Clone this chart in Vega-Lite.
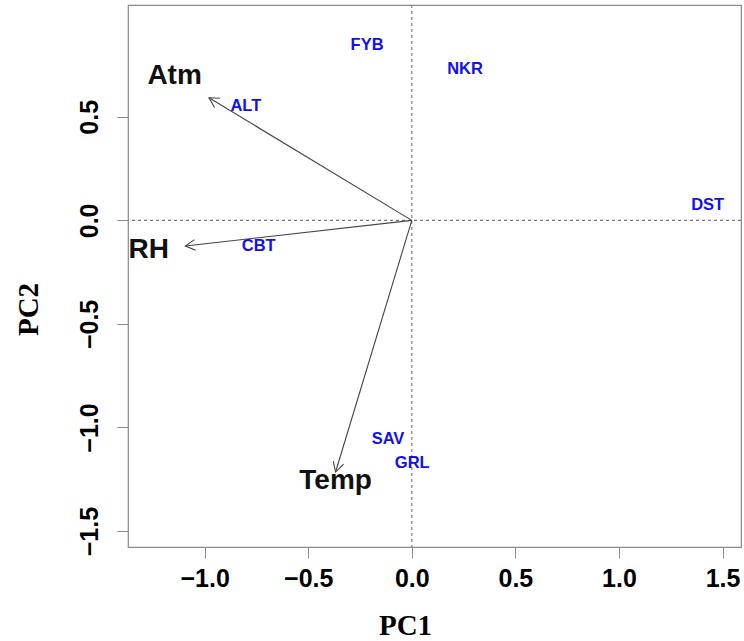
{
  "$schema": "https://vega.github.io/schema/vega-lite/v6.json",
  "autosize": "none",
  "padding": {"left": 128, "top": 5, "right": 3, "bottom": 94},
  "width": 613,
  "height": 542,
  "background": "white",
  "config": {
    "view": {"stroke": "#8a8a8a", "strokeWidth": 1.2},
    "axis": {
      "grid": false,
      "domain": false,
      "tickColor": "#8a8a8a",
      "tickSize": 11,
      "tickWidth": 1,
      "labelFont": "Liberation Sans",
      "labelFontWeight": "bold",
      "labelFontSize": 25,
      "labelColor": "black",
      "titleFont": "Liberation Serif",
      "titleFontWeight": "bold",
      "titleFontSize": 29,
      "titleColor": "black"
    }
  },
  "datasets": {
    "vars": [
      {"var": "Atm", "x": -0.979, "y": 0.592, "lx": -1.145, "ly": 0.695},
      {"var": "RH", "x": -1.093, "y": -0.124, "lx": -1.27, "ly": -0.145},
      {"var": "Temp", "x": -0.368, "y": -1.215, "lx": -0.368, "ly": -1.257}
    ],
    "sites": [
      {"site": "FYB", "x": -0.216, "y": 0.847},
      {"site": "ALT", "x": -0.801, "y": 0.554},
      {"site": "CBT", "x": -0.739, "y": -0.125},
      {"site": "NKR", "x": 0.257, "y": 0.73},
      {"site": "DST", "x": 1.428, "y": 0.076},
      {"site": "SAV", "x": -0.115, "y": -1.057},
      {"site": "GRL", "x": 0.002, "y": -1.169}
    ]
  },
  "layer": [
    {
      "data": {"values": [{}]},
      "mark": {"type": "rule", "color": "#777777", "strokeDash": [3, 3], "strokeWidth": 1.1},
      "encoding": {
        "x": {
          "datum": 0,
          "type": "quantitative",
          "scale": {"domain": [-1.37, 1.589], "nice": false, "zero": false},
          "axis": {
            "values": [-1, -0.5, 0, 0.5, 1, 1.5],
            "format": ".1f",
            "labelPadding": 8,
            "title": "PC1",
            "titleX": 277,
            "titleY": 87,
            "titleBaseline": "alphabetic"
          }
        }
      }
    },
    {
      "data": {"values": [{}]},
      "mark": {"type": "rule", "color": "#777777", "strokeDash": [3, 3], "strokeWidth": 1.1},
      "encoding": {
        "y": {
          "datum": 0,
          "type": "quantitative",
          "scale": {"domain": [-1.577, 1.04], "nice": false, "zero": false},
          "axis": {
            "values": [-1.5, -1, -0.5, 0, 0.5],
            "format": ".1f",
            "labelAngle": 270,
            "labelAlign": "center",
            "labelBaseline": "alphabetic",
            "labelPadding": 20,
            "title": "PC2",
            "titleAngle": 270,
            "titleX": -91,
            "titleY": 304,
            "titleBaseline": "alphabetic"
          }
        }
      }
    },
    {
      "data": {"name": "vars"},
      "mark": {"type": "rule", "color": "#444444", "strokeWidth": 1.1},
      "encoding": {
        "x": {"field": "x", "type": "quantitative"},
        "y": {"field": "y", "type": "quantitative"},
        "x2": {"datum": 0},
        "y2": {"datum": 0}
      }
    },
    {
      "data": {"name": "vars"},
      "transform": [{"calculate": "atan2(-datum.y, datum.x) * 180 / PI", "as": "ang"}],
      "mark": {"type": "point", "shape": "M -1 -0.55 L 0 0 L -1 0.55", "filled": false, "stroke": "#444444", "strokeWidth": 1.1, "size": 380, "opacity": 1},
      "encoding": {
        "x": {"field": "x", "type": "quantitative"},
        "y": {"field": "y", "type": "quantitative"},
        "angle": {"field": "ang", "type": "quantitative", "scale": null}
      }
    },
    {
      "data": {"name": "vars"},
      "mark": {"type": "text", "font": "Liberation Sans", "fontWeight": "bold", "fontSize": 28, "color": "#111111", "align": "center", "baseline": "middle"},
      "encoding": {
        "x": {"field": "lx", "type": "quantitative"},
        "y": {"field": "ly", "type": "quantitative"},
        "text": {"field": "var"}
      }
    },
    {
      "data": {"name": "sites"},
      "mark": {"type": "text", "font": "Liberation Sans", "fontWeight": "bold", "fontSize": 16.5, "color": "#1010f0", "align": "center", "baseline": "middle"},
      "encoding": {
        "x": {"field": "x", "type": "quantitative"},
        "y": {"field": "y", "type": "quantitative"},
        "text": {"field": "site"}
      }
    }
  ]
}
